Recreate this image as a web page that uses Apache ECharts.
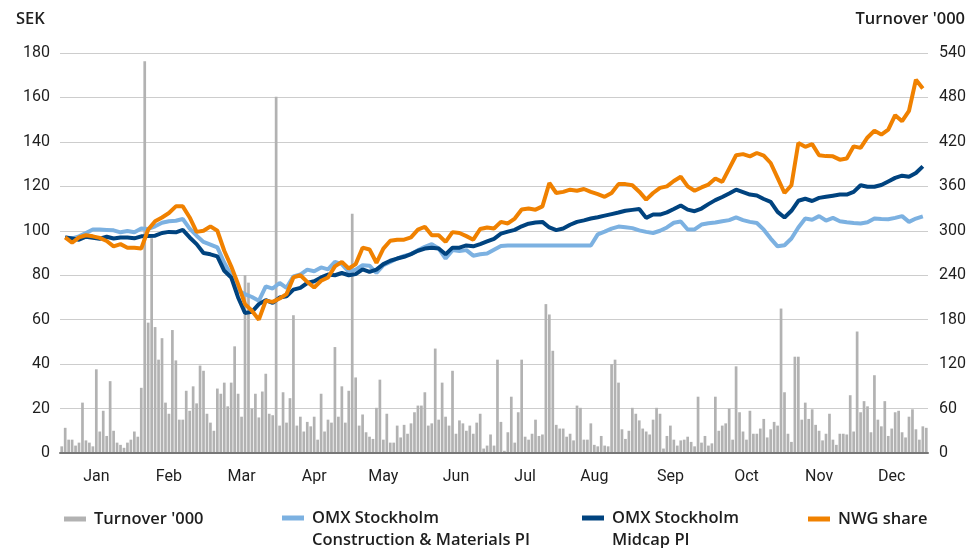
<!DOCTYPE html>
<html>
<head>
<meta charset="utf-8">
<script src="https://cdn.jsdelivr.net/npm/echarts@6/dist/echarts.min.js"></script>
<style>
  html, body { margin: 0; padding: 0; background: #ffffff; }
  #chart { width: 969px; height: 548px; }
</style>
</head>
<body>
<div id="chart"></div>
<script>
// Months and number of trading days in each
const months = ['Jan', 'Feb', 'Mar', 'Apr', 'May', 'Jun', 'Jul', 'Aug', 'Sep', 'Oct', 'Nov', 'Dec'];
const monthDays = [21, 21, 22, 20, 20, 21, 19, 22, 22, 22, 20, 21];

// Tick values for the two y axes
const sekTicks = [0, 20, 40, 60, 80, 100, 120, 140, 160, 180];
const turnoverTicks = [0, 60, 120, 180, 240, 300, 360, 420, 480, 540];

// Daily turnover, thousands of shares (one value per trading day)
const turnover = [
  9, 34, 18, 18, 10, 14, 68, 17, 14, 9, 113, 29, 57, 23, 97, 30, 14, 11, 7, 14, 18,
  29, 22, 88, 529, 176, 290, 170, 126, 155, 68, 53, 166, 125, 45, 45, 84, 57, 90, 67, 118,
  111, 53, 41, 30, 87, 80, 95, 63, 95, 144, 80, 49, 240, 230, 60, 80, 48, 83, 107, 53, 51, 481,
  37, 82, 41, 74, 186, 37, 49, 29, 42, 36, 49, 18, 80, 29, 45, 41, 143, 49, 90, 41,
  84, 323, 102, 37, 52, 28, 22, 19, 61, 99, 18, 53, 14, 14, 37, 21, 38, 26, 40, 55,
  64, 64, 82, 37, 40, 141, 45, 95, 49, 37, 111, 26, 44, 40, 30, 37, 26, 41, 53, 6, 10,
  25, 10, 126, 42, 3, 28, 76, 14, 55, 126, 22, 18, 26, 45, 23, 25, 201, 187, 138, 38,
  33, 33, 22, 26, 17, 64, 61, 18, 18, 40, 11, 9, 23, 10, 9, 120, 126, 95, 32, 19, 30,
  61, 53, 44, 33, 29, 25, 45, 61, 53, 6, 23, 37, 18, 10, 17, 18, 22, 15, 9, 76, 14,
  23, 10, 13, 76, 30, 37, 40, 60, 18, 117, 55, 29, 18, 57, 26, 26, 33, 46, 21, 32,
  42, 37, 195, 82, 26, 15, 130, 130, 45, 68, 46, 59, 38, 30, 17, 26, 53, 18, 11, 26,
  26, 25, 78, 29, 164, 55, 70, 63, 28, 105, 45, 36, 70, 23, 33, 55, 57, 28, 21, 49,
  59, 32, 18, 36, 34
];

// Index and share prices in SEK, one value every second trading day (day 1, 3, 5 ...)
const constructionPI = [
  97, 96.6, 97.5, 99, 100.6, 100.6, 100.4, 100.2, 99.3, 99.9, 99.3, 101, 100.8, 102, 103.6,
  104.3, 104.5, 105.3, 101, 97.8, 95, 93.8, 92.5, 85.6, 80, 73, 71.5, 70.2, 68.5, 75,
  74, 76.5, 74.3, 79.5, 80.3, 82.5, 81.8, 83.5, 82.6, 86, 85, 81.5, 82.5, 84.5, 84.3,
  81, 84.5, 86, 87.5, 88.7, 89.5, 91.2, 92.8, 94, 92, 87.5, 91.3, 90.9, 91.3, 88.8,
  89.4, 89.8, 91.5, 93.2, 93.4, 93.4, 93.4, 93.4, 93.4, 93.4, 93.4, 93.4, 93.4, 93.4,
  93.4, 93.4, 93.4, 98.4, 99.6, 101, 101.9, 101.6, 101.2, 100.2, 99.5, 99, 100, 101.5,
  103.6, 104.2, 100.6, 100.6, 102.8, 103.4, 103.7, 104.3, 104.8, 106, 104.8, 104, 103.5,
  100.5, 96.5, 93, 93.5, 96.5, 101.5, 105.5, 105, 106.6, 104.6, 105.8, 104.3, 103.8,
  103.5, 103.3, 103.8, 105.5, 105.3, 105.2, 105.8, 106.6, 104, 105.5, 106.5
];
const midcapPI = [
  97, 96.5, 96, 97.3, 96.8, 96.4, 97.3, 96.5, 97, 97, 96.6, 97.5, 97.6, 97.8, 99,
  99.5, 99.3, 100.4, 97, 94, 90, 89.4, 88.5, 82, 79, 70, 63, 63.5, 67, 68.8,
  67.5, 70, 70.5, 73.5, 74.3, 76.5, 77.3, 79, 80.3, 80, 81, 80, 80.5, 82.6, 81.5,
  82.5, 85, 86.5, 87.5, 88.3, 89.5, 91, 92, 92.4, 92, 89.4, 92.4, 92.4, 93.4, 93,
  94, 95.2, 96.4, 98.7, 99.6, 100.4, 102, 103.2, 103.7, 104, 101.5, 100.3, 101, 102.7, 104,
  104.7, 105.5, 106.1, 106.8, 107.5, 108.2, 109, 109.4, 109.8, 105.8, 107.3, 107.3, 108.3,
  109.8, 111.4, 109.5, 108.8, 110, 112, 113.8, 115.2, 116.8, 118.5, 117.4, 116.3, 115.9,
  114.3, 113, 108.5, 106, 109, 113.5, 114.4, 113.4, 114.8, 115.3, 115.8, 116.3, 116.3,
  117.5, 120.5, 119.8, 119.8, 120.6, 122.2, 123.8, 124.8, 124.3, 126, 129
];
const nwgShare = [
  97, 94.6, 97, 98, 97.5, 96.8, 95.4, 93, 94, 92.4, 92.4, 92, 100.6, 104.3, 106,
  108, 111, 111, 106, 99.5, 100, 102, 100, 91, 84, 76, 67, 64, 60, 68.5,
  68, 69.5, 71.5, 79, 80, 77, 74.5, 77.5, 79, 84, 86, 83, 85, 92.4, 91.6,
  85.6, 92, 95.5, 96, 96, 97, 100.5, 101.8, 98, 98, 95, 99.4, 99, 97.6, 96,
  100.8, 101.5, 101, 104, 103.3, 105.5, 109.6, 110, 109.5, 111, 121.5, 117, 117.5, 118.5, 118,
  118.8, 117.5, 116.5, 115.3, 117, 121, 121, 120.5, 117.6, 114, 117, 119.3, 120, 122.4,
  124.3, 120, 118, 119.5, 120.8, 123.5, 122, 128, 134, 134.5, 133.5, 135, 133.8, 130.5,
  123.8, 117, 120.5, 139.5, 137.8, 139, 134, 133.6, 133.5, 132, 132.5, 138, 137.3, 142,
  145, 143.3, 145.5, 152, 149.3, 154, 168, 164
];

const FONT = 'Roboto, "Noto Sans", "DejaVu Sans", sans-serif';
const HEAD_FONT = '"Open Sans", Roboto, "DejaVu Sans", sans-serif';
const TEXT = '#1e1e1e';

// Category labels, one per trading day; the month name is shown mid-month
const dayLabels = [];
const labelDays = new Set();
months.forEach((m, mi) => {
  const start = dayLabels.length;
  for (let d = 0; d < monthDays[mi]; d++) dayLabels.push(m + ' ' + (d + 1));
  labelDays.add(start + Math.floor((monthDays[mi] - 1) / 2));
});

// Price series are sampled on every second trading day
const lineDays = constructionPI.map((_, i) => 1 + 2 * i);
const asPoints = (vals) => vals.map((v, i) => [lineDays[i], v]);

const names = {
  turnover: "Turnover '000",
  construction: 'OMX Stockholm Construction & Materials PI',
  midcap: 'OMX Stockholm Midcap PI',
  nwg: 'NWG share'
};
const legendText = {};
legendText[names.turnover] = "Turnover '000";
legendText[names.construction] = '\nOMX Stockholm\nConstruction & Materials PI';
legendText[names.midcap] = '\nOMX Stockholm\nMidcap PI';
legendText[names.nwg] = 'NWG share';

function legendFor(name, left, top) {
  return {
    data: [{ name: name, icon: 'rect' }],
    left: left,
    top: top,
    padding: 0,
    itemWidth: 22,
    itemHeight: 5,
    selectedMode: false,
    formatter: (n) => legendText[n],
    textStyle: {
      fontFamily: HEAD_FONT, fontSize: 16.5, fontWeight: 600, color: TEXT,
      lineHeight: 22, padding: [0, 0, 0, 3]
    }
  };
}

const chart = echarts.init(document.getElementById('chart'), null, { renderer: 'canvas' });
chart.setOption({
  animation: false,
  backgroundColor: '#ffffff',
  title: [
    { text: 'SEK', left: 16, top: 11, padding: 0,
      textStyle: { fontFamily: HEAD_FONT, fontSize: 16.5, fontWeight: 600, color: TEXT } },
    { text: "Turnover '000", right: 4, top: 11, padding: 0,
      textStyle: { fontFamily: HEAD_FONT, fontSize: 16.5, fontWeight: 600, color: TEXT } }
  ],
  legend: [
    legendFor(names.turnover, 64, 508),
    legendFor(names.construction, 282, 485),
    legendFor(names.midcap, 582, 485),
    legendFor(names.nwg, 808, 508)
  ],
  grid: { left: 60, right: 40, top: 53, bottom: 95, containLabel: false },
  xAxis: [
    {
      type: 'category',
      data: dayLabels,
      boundaryGap: true,
      z: 4,
      axisTick: { show: false },
      axisLine: { show: true, lineStyle: { color: '#777777', width: 2 } },
      axisLabel: {
        interval: (idx) => labelDays.has(idx),
        formatter: (v) => v.split(' ')[0],
        fontFamily: FONT, fontSize: 16, color: TEXT, margin: 16
      },
      splitLine: { show: false }
    },
    {
      type: 'value',
      min: -0.5,
      max: turnover.length - 0.5,
      show: false
    }
  ],
  yAxis: [
    {
      type: 'value',
      position: 'left',
      min: sekTicks[0],
      max: sekTicks[sekTicks.length - 1],
      interval: sekTicks[1] - sekTicks[0],
      axisLine: { show: false },
      axisTick: { show: false },
      axisLabel: { fontFamily: FONT, fontSize: 16, color: TEXT, margin: 10 },
      splitLine: { show: true, lineStyle: { color: '#cdcdcd', width: 1 } }
    },
    {
      type: 'value',
      position: 'right',
      min: turnoverTicks[0],
      max: turnoverTicks[turnoverTicks.length - 1],
      interval: turnoverTicks[1] - turnoverTicks[0],
      axisLine: { show: false },
      axisTick: { show: false },
      axisLabel: { fontFamily: FONT, fontSize: 16, color: TEXT, margin: 11 },
      splitLine: { show: false }
    }
  ],
  series: [
    {
      name: names.turnover,
      type: 'bar',
      xAxisIndex: 0,
      yAxisIndex: 1,
      data: turnover,
      color: '#b2b2b2',
      barCategoryGap: '22%',
      itemStyle: { color: '#b2b2b2' }
    },
    {
      name: names.construction,
      type: 'line',
      xAxisIndex: 1,
      yAxisIndex: 0,
      data: asPoints(constructionPI),
      color: '#7cb1e1',
      showSymbol: false,
      lineStyle: { color: '#7cb1e1', width: 4 }
    },
    {
      name: names.midcap,
      type: 'line',
      xAxisIndex: 1,
      yAxisIndex: 0,
      data: asPoints(midcapPI),
      color: '#00437f',
      showSymbol: false,
      lineStyle: { color: '#00437f', width: 4 }
    },
    {
      name: names.nwg,
      type: 'line',
      xAxisIndex: 1,
      yAxisIndex: 0,
      data: asPoints(nwgShare),
      color: '#f08100',
      showSymbol: false,
      lineStyle: { color: '#f08100', width: 4 }
    }
  ]
});
</script>
</body>
</html>
